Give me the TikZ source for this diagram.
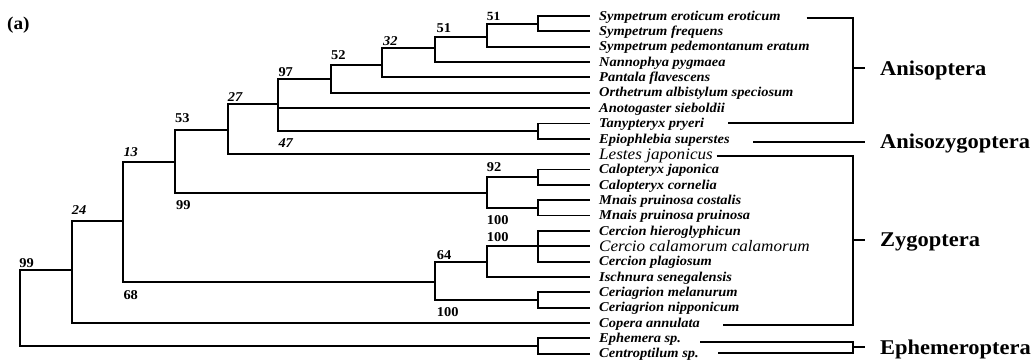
\documentclass[tikz,border=0pt]{standalone}
\usepackage{fontspec}
\setmainfont{Liberation Serif}
\newfontfamily\treefont{Liberation Serif}[FakeStretch=1.07]

\begin{document}
\begin{tikzpicture}[
  x=1pt, y=-1pt,
  br/.style={line width=1.8pt, black},
  tax/.style={anchor=west, inner xsep=9pt, inner ysep=0pt,
              text height=8.5pt, text depth=0pt,
              font=\treefont\fontsize{13.5}{15}\selectfont\bfseries\itshape},
  bigtax/.style={tax, text height=10.5pt,
              font=\treefont\fontsize{16}{18}\selectfont\itshape},
  bs/.style={anchor=west, inner sep=0pt,
             font=\treefont\fontsize{13.5}{15}\selectfont\bfseries},
  bsi/.style={bs, font=\treefont\fontsize{13.5}{15}\selectfont\bfseries\itshape},
  grp/.style={anchor=west, inner xsep=15pt, inner ysep=0pt,
              text height=14pt, text depth=0pt,
              font=\treefont\fontsize{21}{24}\selectfont\bfseries},
]
\useasboundingbox (0,0) rectangle (1035,363);

% vertical lines of the tree (x), tips and row step (y)
\def\xa{20}
\def\xb{71.7}
\def\xc{123.3}
\def\xd{175}
\def\xe{227.7}
\def\xf{278.3}
\def\xg{331}
\def\xh{381.7}
\def\xi{435}
\def\xj{486.7}
\def\xk{538.3}
\def\xt{590}
\def\yo{16}
\def\rs{15.35}

\node[font=\treefont\fontsize{18}{20}\selectfont\bfseries, anchor=west, inner sep=0pt] (lbl) at (7, 25) {(a)};

%% ---- TAXA ----
\node[tax]    (t0)  at (\xt, \yo)         {Sympetrum eroticum eroticum};
\node[tax]    (t1)  at (\xt, \yo+\rs)     {Sympetrum frequens};
\node[tax]    (t2)  at (\xt, \yo+2*\rs)   {Sympetrum pedemontanum eratum};
\node[tax]    (t3)  at (\xt, \yo+3*\rs)   {Nannophya pygmaea};
\node[tax]    (t4)  at (\xt, \yo+4*\rs)   {Pantala flavescens};
\node[tax]    (t5)  at (\xt, \yo+5*\rs)   {Orthetrum albistylum speciosum};
\node[tax]    (t6)  at (\xt, \yo+6*\rs)   {Anotogaster sieboldii};
\node[tax]    (t7)  at (\xt, \yo+7*\rs)   {Tanypteryx pryeri};
\node[tax]    (t8)  at (\xt, \yo+8*\rs)   {Epiophlebia superstes};
\node[bigtax] (t9)  at (\xt, \yo+9*\rs)   {Lestes japonicus};
\node[tax]    (t10) at (\xt, \yo+10*\rs)  {Calopteryx japonica};
\node[tax]    (t11) at (\xt, \yo+11*\rs)  {Calopteryx cornelia};
\node[tax]    (t12) at (\xt, \yo+12*\rs)  {Mnais pruinosa costalis};
\node[tax]    (t13) at (\xt, \yo+13*\rs)  {Mnais pruinosa pruinosa};
\node[tax]    (t14) at (\xt, \yo+14*\rs)  {Cercion hieroglyphicun};
\node[bigtax] (t15) at (\xt, \yo+15*\rs)  {Cercio calamorum calamorum};
\node[tax]    (t16) at (\xt, \yo+16*\rs)  {Cercion plagiosum};
\node[tax]    (t17) at (\xt, \yo+17*\rs)  {Ischnura senegalensis};
\node[tax]    (t18) at (\xt, \yo+18*\rs)  {Ceriagrion melanurum};
\node[tax]    (t19) at (\xt, \yo+19*\rs)  {Ceriagrion nipponicum};
\node[tax]    (t20) at (\xt, \yo+20*\rs)  {Copera annulata};
\node[tax]    (t21) at (\xt, \yo+21*\rs)  {Ephemera sp.};
\node[tax]    (t22) at (\xt, \yo+22*\rs)  {Centroptilum sp.};

%% ---- INNER NODES ----
\coordinate (nSe)  at (\xk, 23.7);
\coordinate (n51a) at (\xj, 37.3);
\coordinate (n51b) at (\xi, 47.7);
\coordinate (n32)  at (\xh, 65);
\coordinate (n52)  at (\xg, 79.3);
\coordinate (nTE)  at (\xk, 131.1);
\coordinate (n97)  at (\xf, 104.3);
\coordinate (n27)  at (\xe, 130);
\coordinate (nCa)  at (\xk, 177.2);
\coordinate (nMn)  at (\xk, 207.9);
\coordinate (n92)  at (\xj, 193.3);
\coordinate (n53)  at (\xd, 161.7);
\coordinate (nCe)  at (\xk, 246.25);
\coordinate (n100) at (\xj, 262.3);
\coordinate (nCr)  at (\xk, 300);
\coordinate (n64)  at (\xi, 281.7);
\coordinate (n13)  at (\xc, 220.7);
\coordinate (n24)  at (\xb, 270);
\coordinate (nEp)  at (\xk, 346);
\coordinate (n99)  at (\xa, 308);

\foreach \a/\b in {nSe/t0,nSe/t1,n51a/nSe,n51a/t2,n51b/n51a,n51b/t3,
                   n32/n51b,n32/t4,n52/n32,n52/t5,nTE/t7,nTE/t8,
                   n97/n52,n97/t6,n97/nTE,n27/n97,n27/t9,
                   nCa/t10,nCa/t11,nMn/t12,nMn/t13,n92/nCa,n92/nMn,
                   n53/n27,n53/n92,nCe/t14,nCe/t15,nCe/t16,n100/nCe,n100/t17,
                   nCr/t18,nCr/t19,n64/n100,n64/nCr,n13/n53,n13/n64,
                   n24/n13,n24/t20,nEp/t21,nEp/t22,n99/n24,n99/nEp}{
  \draw[br] (\a) |- (\b);
}

%% ---- SUPPORT VALUES ----
\node[bs, font=\treefont\fontsize{12.5}{14}\selectfont\bfseries] (b51a) at (486.7, 16) {51};
\node[bs]  (b51b)  at (436.5, 28)    {51};
\node[bsi] (b32)   at (383, 41.5)    {32};
\node[bs]  (b52)   at (331, 55)      {52};
\node[bs]  (b97)   at (278.3, 71.7)  {97};
\node[bsi] (b27)   at (227.7, 96.7)  {27};
\node[bsi] (b47)   at (278.3, 142.7) {47};
\node[bs]  (b53)   at (175, 118.3)   {53};
\node[bsi] (b13)   at (123.3, 151.7) {13};
\node[bs]  (b92)   at (486.7, 167)   {92};
\node[bs]  (b99a)  at (176, 205)     {99};
\node[bsi] (b24)   at (71.7, 210)    {24};
\node[bs]  (b100a) at (486.7, 220)   {100};
\node[bs]  (b100b) at (486.7, 236.7) {100};
\node[bs]  (b64)   at (436.7, 255)   {64};
\node[bs]  (b99b)  at (19.3, 263.3)  {99};
\node[bs]  (b68)   at (123.3, 295)   {68};
\node[bs]  (b100c) at (436.7, 311.7) {100};

%% ---- GROUPS ----
\coordinate (aniA) at (806.7, 18.3);
\coordinate (aniB) at (728, 123.3);
\coordinate (aniT) at (853.3, 68.3);
\node[grp] (ani) at (865, 68.3) {Anisoptera};
\draw[br] (aniA) -| (aniT) |- (aniB);
\draw[br] (aniT) -- (ani);

\coordinate (anzA) at (753, 141.7);
\node[grp] (anz) at (865, 141.7) {Anisozygoptera};
\draw[br] (anzA) -- (anz);

\coordinate (zygA) at (716.7, 156);
\coordinate (zygB) at (723, 325);
\coordinate (zygT) at (853.3, 240);
\node[grp] (zyg) at (865, 240) {Zygoptera};
\draw[br] (zygA) -| (zygT) |- (zygB);
\draw[br] (zygT) -- (zyg);

\coordinate (ephA) at (700, 341.7);
\coordinate (ephB) at (718, 352.7);
\coordinate (ephT) at (853.3, 347);
\node[grp] (eph) at (865, 347) {Ephemeroptera};
\draw[br] (ephA) -| (ephT) |- (ephB);
\draw[br] (ephT) -- (eph);

\end{tikzpicture}
\end{document}
